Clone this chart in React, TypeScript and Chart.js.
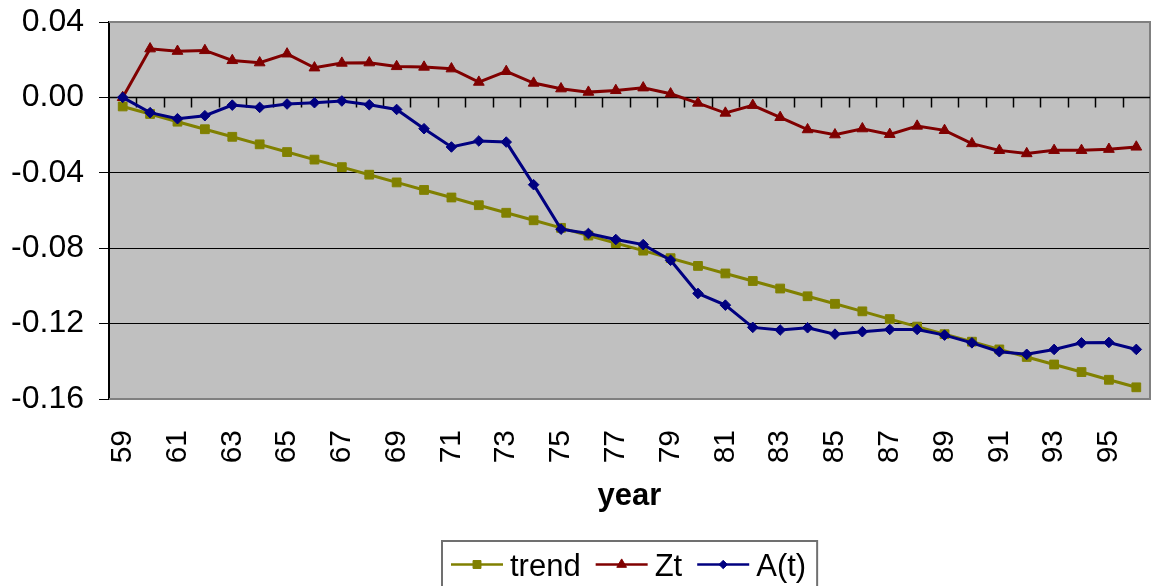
import React, { useEffect, useRef } from 'react';
import { Chart, registerables } from 'chart.js';

Chart.register(...registerables);

const FONT = "'Liberation Sans', Arial, Helvetica, sans-serif";

const years = [
  '59', '60', '61', '62', '63', '64', '65', '66', '67', '68',
  '69', '70', '71', '72', '73', '74', '75', '76', '77', '78',
  '79', '80', '81', '82', '83', '84', '85', '86', '87', '88',
  '89', '90', '91', '92', '93', '94', '95', '96',
];

const trend = [
  -0.0048, -0.0088, -0.0129, -0.0169, -0.0209, -0.0249, -0.029, -0.033, -0.037, -0.041,
  -0.0451, -0.0491, -0.0531, -0.0572, -0.0612, -0.0652, -0.0692, -0.0733, -0.0773, -0.0813,
  -0.0853, -0.0894, -0.0934, -0.0974, -0.1014, -0.1055, -0.1095, -0.1135, -0.1176, -0.1216,
  -0.1256, -0.1296, -0.1337, -0.1377, -0.1417, -0.1457, -0.1498, -0.1538,
];

const zt = [
  0.0, 0.0258, 0.0245, 0.0249, 0.0196, 0.0184, 0.0231, 0.0157, 0.0182, 0.0184,
  0.0164, 0.0161, 0.0152, 0.0081, 0.0138, 0.0076, 0.0046, 0.0028, 0.0037, 0.0051,
  0.0019, -0.003, -0.0083, -0.0042, -0.0106, -0.0171, -0.0198, -0.0166, -0.0196, -0.0152,
  -0.0175, -0.0245, -0.0281, -0.0298, -0.0281, -0.0281, -0.0275, -0.0263,
];

const at = [
  0.0, -0.0081, -0.0113, -0.0097, -0.0041, -0.0053, -0.0035, -0.0028, -0.0019, -0.0039,
  -0.0064, -0.0166, -0.0263, -0.0231, -0.0237, -0.0463, -0.0699, -0.0722, -0.0754, -0.0781,
  -0.0864, -0.104, -0.1102, -0.122, -0.1234, -0.1222, -0.1256, -0.1243, -0.1231, -0.1231,
  -0.1261, -0.1302, -0.1349, -0.1363, -0.1337, -0.1302, -0.13, -0.1337,
];

const Y_MIN = -0.16;
const Y_MAX = 0.04;
const Y_STEP = 0.04;

const seriesLabels = ['trend', 'Zt', 'A(t)'];
const xTitle = 'year';

function drawMarker(ctx: CanvasRenderingContext2D, style: string, x: number, y: number, r: number, color: string) {
  ctx.save();
  ctx.fillStyle = color;
  ctx.strokeStyle = color;
  ctx.lineWidth = 1;
  ctx.beginPath();
  if (style === 'rect') {
    const s = r * Math.SQRT1_2;
    ctx.rect(x - s, y - s, 2 * s, 2 * s);
  } else if (style === 'triangle') {
    const h = r * Math.sin(Math.PI / 3);
    ctx.moveTo(x, y - r);
    ctx.lineTo(x + h, y + r / 2);
    ctx.lineTo(x - h, y + r / 2);
    ctx.closePath();
  } else {
    ctx.moveTo(x, y - r);
    ctx.lineTo(x + r, y);
    ctx.lineTo(x, y + r);
    ctx.lineTo(x - r, y);
    ctx.closePath();
  }
  ctx.fill();
  ctx.stroke();
  ctx.restore();
}

const framePlugin = {
  id: 'frame',
  beforeDraw(chart: any) {
    const { ctx, chartArea: a } = chart;
    ctx.save();
    ctx.fillStyle = '#C0C0C0';
    ctx.fillRect(a.left, a.top, a.right - a.left, a.bottom - a.top);
    ctx.restore();
  },
  beforeDatasetsDraw(chart: any) {
    const { ctx, chartArea: a, scales } = chart;
    const x = scales.x;
    const y = scales.y;
    ctx.save();
    ctx.strokeStyle = '#808080';
    ctx.lineWidth = 2;
    ctx.beginPath();
    ctx.moveTo(a.left, a.top);
    ctx.lineTo(a.right, a.top);
    ctx.lineTo(a.right, a.bottom);
    ctx.lineTo(a.left, a.bottom);
    ctx.stroke();

    const y0 = Math.round(y.getPixelForValue(0)) + 0.5;
    ctx.strokeStyle = '#000';
    ctx.lineWidth = 1.5;
    ctx.beginPath();
    ctx.moveTo(a.left, y0);
    ctx.lineTo(a.right, y0);
    const n = chart.data.labels.length;
    for (let i = 1; i < n; i++) {
      const px = Math.round(x.getPixelForValue(i - 0.5)) + 0.5;
      ctx.moveTo(px, y0);
      ctx.lineTo(px, y0 + 10);
    }
    ctx.stroke();
    ctx.restore();
  },
};

const legendPlugin = {
  id: 'boxLegend',
  afterDraw(chart: any) {
    const { ctx, chartArea: a } = chart;
    const datasets = chart.data.datasets;
    ctx.save();
    ctx.font = `31px ${FONT}`;
    const widths = datasets.map((ds: any) => ctx.measureText(ds.label).width);
    const lineLen = 52;
    const gapLT = 7;
    const gapItems = 15;
    const padL = 9;
    const padR = 11;
    let total = padL + padR + gapItems * (datasets.length - 1);
    widths.forEach((w: number) => { total += lineLen + gapLT + w; });
    const boxLeft = Math.round((a.left + a.right) / 2 - total / 2);
    const boxTop = 541;
    const cy = 564.5;
    ctx.strokeStyle = '#707070';
    ctx.lineWidth = 2;
    ctx.strokeRect(boxLeft, boxTop, total, 70);
    let x = boxLeft + padL;
    datasets.forEach((ds: any, i: number) => {
      ctx.strokeStyle = ds.borderColor;
      ctx.lineWidth = 2.5;
      ctx.beginPath();
      ctx.moveTo(x, cy);
      ctx.lineTo(x + lineLen, cy);
      ctx.stroke();
      drawMarker(ctx, ds.pointStyle, x + lineLen / 2, cy, ds.pointStyle === 'rectRot' ? 4.2 : 5.6, ds.borderColor);
      ctx.fillStyle = '#000';
      ctx.textBaseline = 'alphabetic';
      ctx.textAlign = 'left';
      ctx.font = `31px ${FONT}`;
      ctx.fillText(ds.label, x + lineLen + gapLT, 575.5);
      x += lineLen + gapLT + widths[i] + gapItems;
    });
    ctx.restore();
  },
};

export default function App() {
  const ref = useRef<HTMLCanvasElement | null>(null);

  useEffect(() => {
    if (!ref.current) return;
    Chart.defaults.font.family = FONT;
    Chart.defaults.color = '#000';
    const chart = new Chart(ref.current, {
      type: 'line',
      data: {
        labels: years,
        datasets: [
          {
            label: seriesLabels[0],
            data: trend,
            borderColor: '#808000',
            backgroundColor: '#808000',
            pointBackgroundColor: '#808000',
            pointBorderColor: '#808000',
            borderWidth: 3,
            pointStyle: 'rect',
            pointRadius: 6.2,
            pointBorderWidth: 1,
            tension: 0,
            order: 3,
          },
          {
            label: seriesLabels[1],
            data: zt,
            borderColor: '#800000',
            backgroundColor: '#800000',
            pointBackgroundColor: '#800000',
            pointBorderColor: '#800000',
            borderWidth: 3,
            pointStyle: 'triangle',
            pointRadius: 6.2,
            pointBorderWidth: 1,
            tension: 0,
            order: 2,
          },
          {
            label: seriesLabels[2],
            data: at,
            borderColor: '#000080',
            backgroundColor: '#000080',
            pointBackgroundColor: '#000080',
            pointBorderColor: '#000080',
            borderWidth: 3,
            pointStyle: 'rectRot',
            pointRadius: 5.3,
            pointBorderWidth: 1,
            tension: 0,
            order: 1,
          },
        ],
      },
      options: {
        responsive: false,
        animation: false,
        events: [],
        layout: { autoPadding: false, padding: { top: 22, right: 1, bottom: 0, left: 0 } },
        plugins: {
          legend: { display: false },
          tooltip: { enabled: false },
        },
        scales: {
          x: {
            type: 'category',
            offset: true,
            grid: { display: false },
            border: { display: false },
            ticks: {
              autoSkip: false,
              minRotation: 90,
              maxRotation: 90,
              padding: 23,
              color: '#000',
              font: { size: 30, family: FONT },
              callback: (_v: any, i: number) => (i % 2 === 0 ? years[i] : ''),
            },
            title: {
              display: true,
              text: xTitle,
              color: '#000',
              font: { size: 31, weight: 'bold', family: FONT },
              padding: { top: 0, bottom: 71 },
            },
            afterFit: (s: any) => {
              s.height = 187;
              s.paddingLeft = 0;
              s.paddingRight = 0;
            },
          },
          y: {
            min: Y_MIN,
            max: Y_MAX,
            grid: {
              color: '#000',
              lineWidth: 1,
              drawTicks: true,
              tickLength: 10,
              tickColor: '#000',
            },
            border: { display: true, color: '#000', width: 2 },
            ticks: {
              stepSize: Y_STEP,
              padding: 15,
              color: '#000',
              font: { size: 32, family: FONT },
              callback: (v: any) => {
                const n = Number(v);
                return Math.abs(n) < 1e-9 ? '0.00' : n.toFixed(2);
              },
            },
            afterFit: (s: any) => {
              s.width = 109;
              s.paddingTop = 0;
              s.paddingBottom = 0;
            },
          },
        },
      },
      plugins: [framePlugin, legendPlugin],
    } as any);
    return () => chart.destroy();
  }, []);

  return (
    <div style={{ position: 'absolute', left: 0, top: 0, width: 1151, height: 586, background: '#fff' }}>
      <canvas ref={ref} width={1151} height={586} style={{ display: 'block', width: 1151, height: 586 }} />
    </div>
  );
}
